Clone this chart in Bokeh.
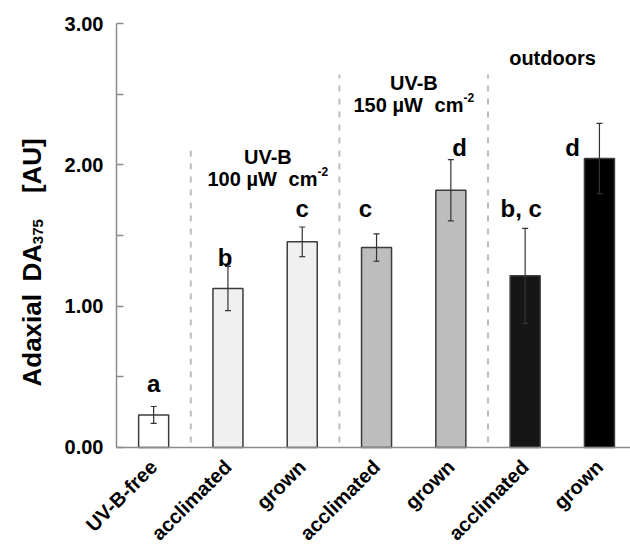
import math
from bokeh.plotting import figure
from bokeh.models import (ColumnDataSource, Range1d, FixedTicker, NumeralTickFormatter,
                          Whisker, TeeHead, Label, LinearAxis)
from bokeh.core.properties import value
from bokeh.embed import file_html
from bokeh.resources import INLINE

# ---- data ----
categories = ["UV-B-free", "acclimated", "grown", "acclimated", "grown", "acclimated", "grown"]
values = [0.23, 1.125, 1.455, 1.415, 1.82, 1.215, 2.045]
errors = [0.06, 0.157, 0.105, 0.097, 0.217, 0.336, 0.248]
letters = ["a", "b", "c", "c", "d", "b, c", "d"]
y_ticks = [0, 1, 2, 3]
y_minor = [0.5, 1.5, 2.5]

# ---- styles ----
bar_colors = ["#ffffff", "#f0f0f0", "#f0f0f0", "#bebebe", "#bebebe", "#161616", "#000000"]
FONT = "Liberation Sans"

xs = list(range(len(categories)))
src = ColumnDataSource(dict(
    x=xs, top=values, color=bar_colors,
    upper=[v + e for v, e in zip(values, errors)],
    lower=[v - e for v, e in zip(values, errors)],
))

X0, X1 = -2.0612, 6.418
Y0, Y1 = -0.7571, 3.1628
p = figure(width=630, height=554, output_backend="svg", toolbar_location=None,
           x_range=Range1d(X0, X1), y_range=Range1d(Y0, Y1),
           y_axis_location=None, x_axis_location=None,
           min_border_left=0, min_border_right=0, min_border_top=0,
           min_border_bottom=0)
p.outline_line_color = None
p.grid.visible = False
p.background_fill_color = "white"
p.border_fill_color = "white"

# bars
p.vbar(x="x", top="top", width=0.404, source=src, fill_color="color",
       line_color="#3c3c3c", line_width=1.5)

# error bars
w = Whisker(base="x", upper="upper", lower="lower", source=src,
            line_color="#333333", line_width=1.2,
            upper_head=TeeHead(size=6, line_color="#333333", line_width=1.2),
            lower_head=TeeHead(size=6, line_color="#333333", line_width=1.2))
w.level = "overlay"
p.add_layout(w)

# dashed separators
p.segment(x0=[0.5, 2.5, 4.5], y0=[0.035, 0.035, 0.035], x1=[0.5, 2.5, 4.5],
          y1=[2.12, 2.64, 2.64], line_color="#bdbdbd", line_width=2, line_dash="6 7")

# y axis at x = -0.5
ya = LinearAxis(fixed_location=-0.5, bounds=(0, 3))
ya.ticker = FixedTicker(ticks=y_ticks, minor_ticks=y_minor)
ya.formatter = NumeralTickFormatter(format="0.00")
ya.axis_line_color = "#8c8c8c"
ya.axis_line_width = 1.5
ya.major_tick_line_color = "#8c8c8c"
ya.minor_tick_line_color = "#8c8c8c"
ya.major_tick_line_width = 1.5
ya.minor_tick_line_width = 1.5
ya.major_tick_in = 7
ya.major_tick_out = 0
ya.minor_tick_in = 7
ya.minor_tick_out = 0
ya.major_label_standoff = 13
ya.major_label_text_font = FONT
ya.major_label_text_font_style = "bold"
ya.major_label_text_font_size = "20px"
ya.major_label_text_color = "black"
p.add_layout(ya, "left")

# x axis at y = 0
xa = LinearAxis(fixed_location=0, bounds=(-0.5, X1))
xa.ticker = FixedTicker(ticks=xs, minor_ticks=[])
xa.major_label_overrides = {i: c for i, c in enumerate(categories)}
xa.major_label_orientation = math.pi / 4
xa.axis_line_color = "#8c8c8c"
xa.axis_line_width = 1.5
xa.major_tick_in = 0
xa.major_tick_out = 0
xa.minor_tick_in = 0
xa.minor_tick_out = 0
xa.major_label_standoff = 16
xa.major_label_text_font = FONT
xa.major_label_text_font_style = "bold"
xa.major_label_text_font_size = "20px"
xa.major_label_text_color = "black"
p.add_layout(xa, "below")

def lab(x, y, text, size, align="left", baseline="alphabetic"):
    p.add_layout(Label(x=x, y=y, text=text, text_font=FONT, text_font_style="bold",
                       text_font_size=size, text_align=align, text_baseline=baseline,
                       text_color="black"))

# significance letters
letter_pos = [(0.0, 0.45), (0.963, 1.344), (2.0, 1.692), (2.851, 1.692),
              (4.116, 2.123), (4.947, 1.692), (5.637, 2.123)]
for (lx, ly), t in zip(letter_pos, letters):
    lab(lx, ly, t, "24px", align="center")

# group headings
lab(1.537, 2.052, "UV-B", "20px", align="center")
lab(0.7248, 1.901, "100 µW", "20px")
lab(1.8163, 1.901, "cm", "20px")
lab(2.2053, 1.951, "-2", "12px")

lab(3.502, 2.581, "UV-B", "20px", align="center")
lab(2.6898, 2.425, "150 µW", "20px")
lab(3.7813, 2.425, "cm", "20px")
lab(4.1703, 2.474, "-2", "12px")

lab(5.368, 2.757, "outdoors", "20px", align="center")

# y-axis title (rotated, with subscript)
ang = math.pi / 2
p.text(x=[-1.631, -1.631, -1.631], y=[0.4315, 1.175, 1.80],
       text=["Adaxial", "DA", "[AU]"], angle=ang,
       text_font=value(FONT), text_font_style="bold", text_font_size="26px",
       text_align="left", text_baseline="alphabetic", text_color="black")
p.text(x=[-1.563], y=[1.4385], text=["375"], angle=ang,
       text_font=value(FONT), text_font_style="bold", text_font_size="15px",
       text_align="left", text_baseline="alphabetic", text_color="black")

open("out.html", "w").write(file_html(p, INLINE))
